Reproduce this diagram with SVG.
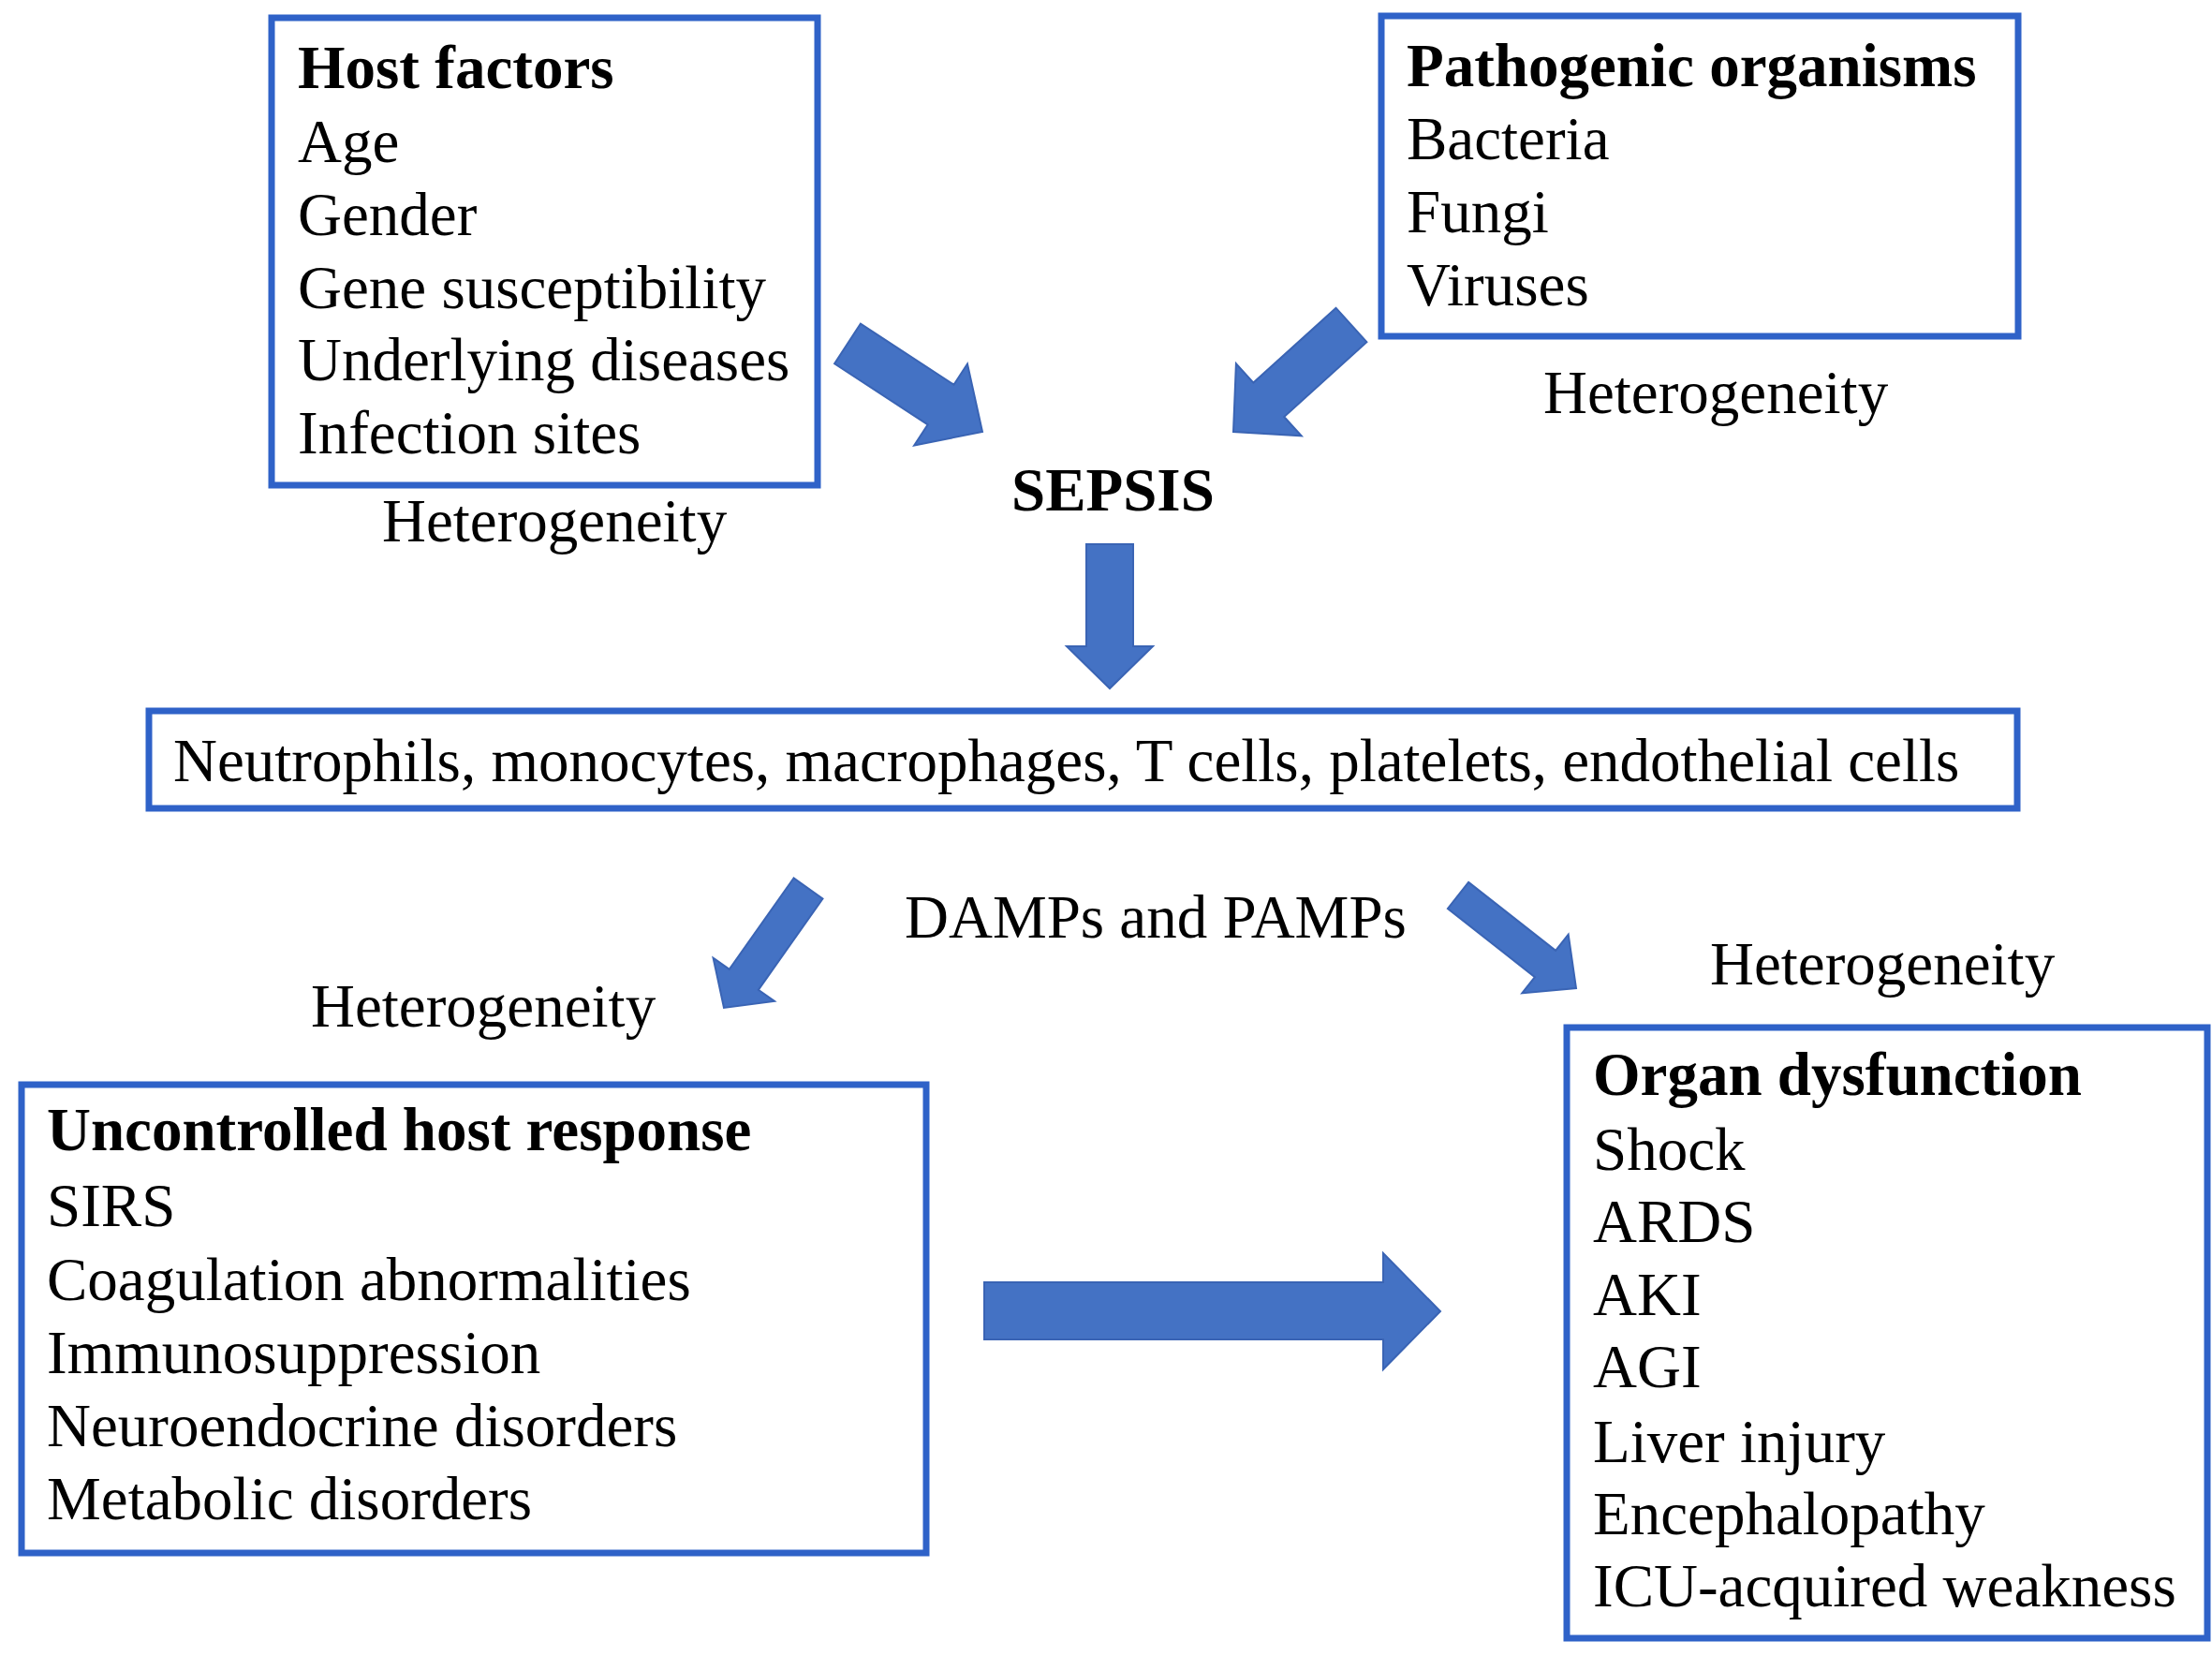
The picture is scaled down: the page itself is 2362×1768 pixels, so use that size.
<svg xmlns="http://www.w3.org/2000/svg" width="2362" height="1768" viewBox="0 0 2362 1768">
<style>
.box{fill:#ffffff;stroke:#2F62C8;stroke-width:7}
.t{font-family:"Liberation Serif","Times New Roman",serif;font-size:65px;fill:#000}
.b{font-weight:bold}
.arr{fill:#4472C4;stroke:#3A64B4;stroke-width:2;stroke-linejoin:miter}
</style>
<rect x="0" y="0" width="2362" height="1768" fill="#ffffff"/>
<g id="host-factors">
<rect class="box" x="290" y="19" width="583" height="499"/>
<text class="t b" x="318" y="94">Host factors</text>
<text class="t" x="318" y="173">Age</text>
<text class="t" x="318" y="251">Gender</text>
<text class="t" x="318" y="329">Gene susceptibility</text>
<text class="t" x="318" y="406">Underlying diseases</text>
<text class="t" x="318" y="484">Infection sites</text>
</g>
<g id="host-heterogeneity"><text class="t" x="408" y="578">Heterogeneity</text></g>
<g id="pathogenic-organisms">
<rect class="box" x="1475" y="17" width="680" height="342"/>
<text class="t b" x="1502" y="92">Pathogenic organisms</text>
<text class="t" x="1502" y="170">Bacteria</text>
<text class="t" x="1502" y="248">Fungi</text>
<text class="t" x="1502" y="326">Viruses</text>
</g>
<g id="pathogen-heterogeneity"><text class="t" x="1648" y="441">Heterogeneity</text></g>
<g id="sepsis"><text class="t b" x="1080" y="545">SEPSIS</text></g>
<g id="cells">
<rect class="box" x="159" y="759" width="1995" height="104"/>
<text class="t" x="185" y="834">Neutrophils, monocytes, macrophages, T cells, platelets, endothelial cells</text>
</g>
<g id="damps-pamps"><text class="t" x="966" y="1001">DAMPs and PAMPs</text></g>
<g id="left-heterogeneity"><text class="t" x="332" y="1096">Heterogeneity</text></g>
<g id="right-heterogeneity"><text class="t" x="1826" y="1051">Heterogeneity</text></g>
<g id="host-response">
<rect class="box" x="23" y="1158" width="966" height="500"/>
<text class="t b" x="50" y="1228">Uncontrolled host response</text>
<text class="t" x="50" y="1309">SIRS</text>
<text class="t" x="50" y="1388">Coagulation abnormalities</text>
<text class="t" x="50" y="1466">Immunosuppression</text>
<text class="t" x="50" y="1544">Neuroendocrine disorders</text>
<text class="t" x="50" y="1622">Metabolic disorders</text>
</g>
<g id="organ-dysfunction">
<rect class="box" x="1673" y="1097" width="684" height="652"/>
<text class="t b" x="1701" y="1169">Organ dysfunction</text>
<text class="t" x="1701" y="1249">Shock</text>
<text class="t" x="1701" y="1326">ARDS</text>
<text class="t" x="1701" y="1404">AKI</text>
<text class="t" x="1701" y="1481">AGI</text>
<text class="t" x="1701" y="1561">Liver injury</text>
<text class="t" x="1701" y="1638">Encephalopathy</text>
<text class="t" x="1701" y="1715">ICU-acquired weakness</text>
</g>
<g id="connectors">
<polygon class="arr" points="918.9,345.7 1018.5,410.7 1033,388.5 1049,461 976.2,475.5 990.7,453.3 891.1,388.3"/>
<polygon class="arr" points="1426.6,328.8 1338.4,408.6 1319.9,388.3 1317,461 1389.7,465.3 1371.2,445 1459.4,365.2"/>
<polygon class="arr" points="1160,581 1210,581 1210,690 1231,690 1185,735 1139,690 1160,690"/>
<polygon class="arr" points="847.5,937.5 778.8,1034.8 761.6,1022.7 773,1076 827,1068.9 809.8,1056.8 878.5,959.5"/>
<polygon class="arr" points="1568.1,941.9 1661.1,1014.9 1674.7,997.6 1683,1055 1625.3,1060.4 1638.9,1043.1 1545.9,970.1"/>
<polygon class="arr" points="1051,1369 1477,1369 1477,1338 1538,1400 1477,1462 1477,1430 1051,1430"/>
</g>
</svg>
